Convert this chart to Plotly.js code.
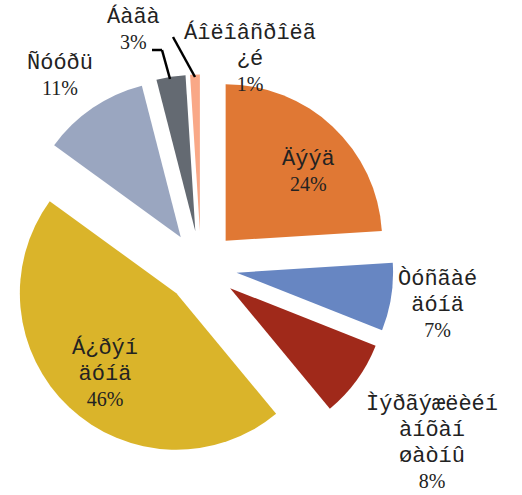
<!DOCTYPE html>
<html>
<head>
<meta charset="utf-8">
<script src="https://cdn.plot.ly/plotly-3.0.1.min.js"></script>
<style>html,body{margin:0;padding:0;background:#fff;}#chart{width:522px;height:495px;}</style>
</head>
<body>
<div id="chart"></div>
<script>
// ---- data ----
const categories = ['Äýýä', 'Òóñãàé äóíä', 'Ìýðãýæëèéí àíõàí øàòíû', 'Á¿ðýí äóíä', 'Ñóóðü', 'Áàãà', 'Áîëîâñðîëã¿é'];
const labelLines = [['Äýýä'], ['Òóñãàé', 'äóíä'], ['Ìýðãýæëèéí', 'àíõàí', 'øàòíû'], ['Á¿ðýí', 'äóíä'], ['Ñóóðü'], ['Áàãà'], ['Áîëîâñðîëã', '¿é']];
const values = [24, 7, 8, 46, 11, 3, 1];
const colors = ['#E07834', '#6786C2', '#A0291A', '#DAB42A', '#9AA6C0', '#646A72', '#F9A887'];

// ---- layout helpers (pixel positions of label centers) ----
const W = 522, H = 495;
const labelPos = [[308, 171], [437, 303], [432, 441], [105, 372], [60, 75], [133, 28], [250, 58]];
const leaderLines = [
  [[152, 50], [162, 50], [170, 79]],
  [[173, 37], [195, 77]]
];
const px = x => x / W;
const py = y => 1 - y / H;

const total = values.reduce((a, b) => a + b, 0);
const annotations = categories.map((c, i) => {
  const pct = Math.round(values[i] / total * 100) + '%';
  const lines = labelLines[i].map(l => '<span style="font-family:\'Liberation Mono\',\'Courier New\',monospace;font-size:22px">' + l + '</span>');
  return {
    xref: 'paper', yref: 'paper', x: px(labelPos[i][0]), y: py(labelPos[i][1]),
    xanchor: 'center', yanchor: 'middle', showarrow: false, align: 'center',
    text: lines.join('<br>') + '<br>' + pct,
    font: {family: '"Liberation Serif","Times New Roman",serif', size: 20, color: '#222222'}
  };
});

const shapes = [];
leaderLines.forEach(pts => {
  for (let k = 0; k < pts.length - 1; k++) {
    shapes.push({type: 'line', xref: 'paper', yref: 'paper',
      x0: px(pts[k][0]), y0: py(pts[k][1]), x1: px(pts[k + 1][0]), y1: py(pts[k + 1][1]),
      line: {color: '#000', width: 2.5}});
  }
});

const trace = {
  type: 'pie',
  labels: categories,
  values: values,
  marker: {colors: colors, line: {width: 0}},
  sort: false,
  direction: 'clockwise',
  rotation: 0,
  pull: values.map(() => 0.23),
  textinfo: 'none',
  hoverinfo: 'none',
  showlegend: false,
  domain: {x: [8.5 / W, 393.5 / W], y: [1 - 459.5 / H, 1 - 74.5 / H]}
};

Plotly.newPlot('chart', [trace], {
  width: W, height: H,
  margin: {l: 0, r: 0, t: 0, b: 0},
  paper_bgcolor: '#ffffff',
  showlegend: false,
  annotations: annotations,
  shapes: shapes
}, {displayModeBar: false, staticPlot: true});
</script>
</body>
</html>
